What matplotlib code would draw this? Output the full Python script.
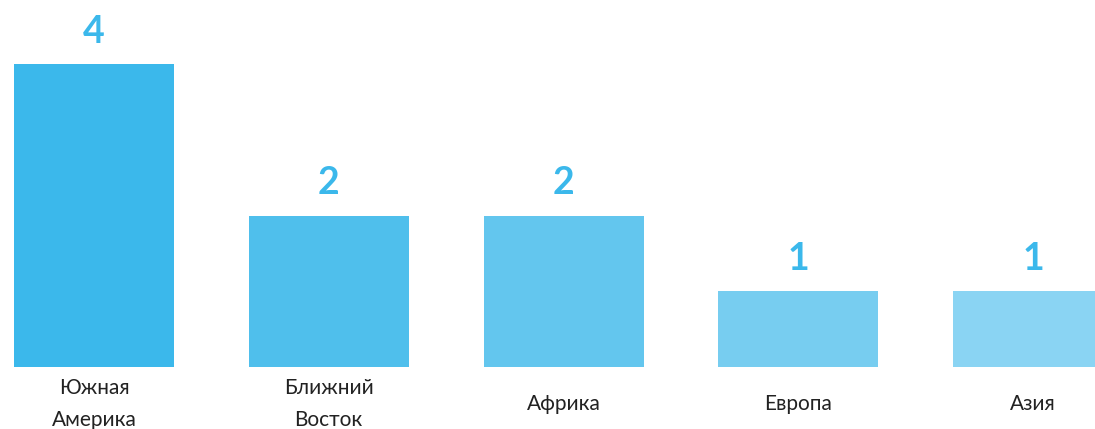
import matplotlib.pyplot as plt
import matplotlib.transforms as mtransforms

plt.rcParams["font.family"] = ["Lato", "DejaVu Sans"]

# данные
regions = ["Южная\nАмерика", "Ближний\nВосток", "Африка", "Европа", "Азия"]
counts = [4, 2, 2, 1, 1]
colors = ["#3BB8EB", "#4FBFEC", "#63C6EE", "#77CDF0", "#8AD4F3"]

W, H = 1095, 429
fig = plt.figure(figsize=(W / 100, H / 100), dpi=100)
# ось y: база на 367 px сверху, 4 -> 64 px сверху
ax = fig.add_axes([0, 62 / H, 1, 303 / H])
step = 234.75
ax.set_xlim(-94 / step, (W - 94) / step)
ax.set_ylim(0, 4)

x = range(len(regions))
ax.bar(x, counts, width=160 / step, color=colors)

for i, v in enumerate(counts):
    ax.annotate(str(v), (i, v), xytext=(0, 32 * 0.72), textcoords="offset points",
                ha="center", va="center", fontsize=27, fontweight="bold",
                color="#3BB8EB")

trans = mtransforms.blended_transform_factory(ax.transData, ax.transAxes)
for i, name in enumerate(regions):
    ax.text(i, -37 / 303, name, transform=trans, ha="center", va="center",
            fontsize=15, color="#222222", linespacing=1.75, clip_on=False)

ax.axis("off")
fig.savefig("out.png", dpi=100)
